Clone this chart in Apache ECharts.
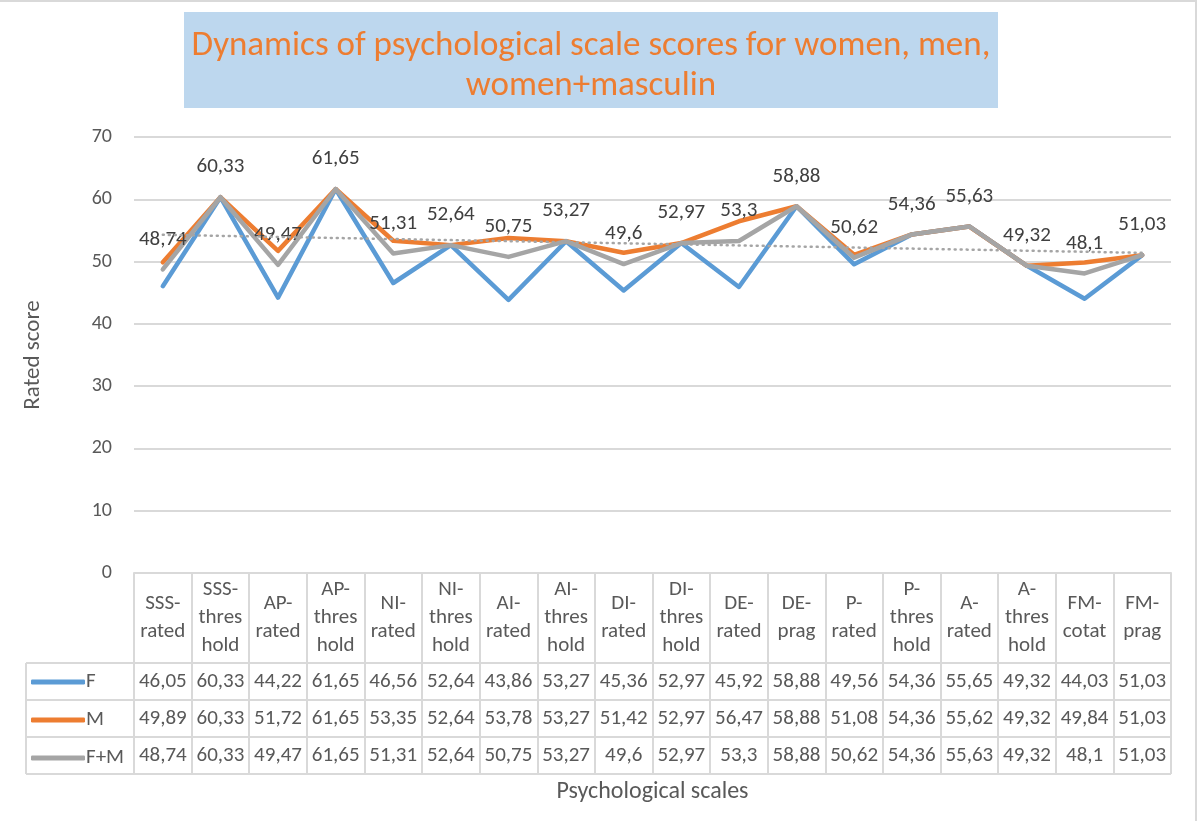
<!DOCTYPE html>
<html>
<head>
<meta charset="utf-8">
<script src="https://cdn.jsdelivr.net/npm/echarts@6/dist/echarts.min.js"></script>
<style>
html,body{margin:0;padding:0;background:#fff;}
#chart{width:1200px;height:821px;}
</style>
</head>
<body>
<div id="chart"></div>
<script>
// ---- data ----
const categories = ['SSS-\nrated','SSS-\nthres\nhold','AP-\nrated','AP-\nthres\nhold','NI-\nrated','NI-\nthres\nhold','AI-\nrated','AI-\nthres\nhold','DI-\nrated','DI-\nthres\nhold','DE-\nrated','DE-\nprag','P-\nrated','P-\nthres\nhold','A-\nrated','A-\nthres\nhold','FM-\ncotat','FM-\nprag'];
const seriesF  = [46.05,60.33,44.22,61.65,46.56,52.64,43.86,53.27,45.36,52.97,45.92,58.88,49.56,54.36,55.65,49.32,44.03,51.03];
const seriesM  = [49.89,60.33,51.72,61.65,53.35,52.64,53.78,53.27,51.42,52.97,56.47,58.88,51.08,54.36,55.62,49.32,49.84,51.03];
const seriesFM = [48.74,60.33,49.47,61.65,51.31,52.64,50.75,53.27,49.6,52.97,53.3,58.88,50.62,54.36,55.63,49.32,48.1,51.03];
const trendFM  = [54.3, 51.4]; // linear trendline endpoints
const yTicks = {min:0, max:70, interval:10};
const seriesNames = ['F','M','F+M'];

// ---- layout ----
const FONT = 'Carlito, Lato, "Open Sans", sans-serif';
const TXT = '#595959';
const GRID = '#d9d9d9';
const gL = 134, gR = 1171, gT = 137, gB = 573;
const rowH = 37, hdrH = 90;
const tableLeft = 26;
const fmt = v => String(v).replace('.', ',');

const chart = echarts.init(document.getElementById('chart'), null, {renderer:'canvas'});

function valueAxis(data, idx){
  return {
    type:'category', data:data.map(fmt), position:'bottom', gridIndex:0,
    offset: hdrH + rowH*idx,
    axisLine:{show:false}, axisTick:{show:false},
    axisLabel:{interval:0, fontFamily:FONT, fontSize:21, color:TXT, verticalAlign:'middle', margin:rowH/2}
  };
}

const hLines = [];
for (let i=0;i<=3;i++){
  const y = gB + hdrH + rowH*i;
  hLines.push({type:'line', shape:{x1:tableLeft, y1:y, x2:gR, y2:y}, style:{stroke:GRID, lineWidth:2}, silent:true});
}
hLines.push({type:'line', shape:{x1:tableLeft, y1:gB+hdrH, x2:tableLeft, y2:gB+hdrH+rowH*3}, style:{stroke:GRID, lineWidth:2}, silent:true});

const option = {
  animation:false,
  backgroundColor:'#fff',
  textStyle:{fontFamily:FONT},
  grid:{left:gL, right:1200-gR, top:gT, bottom:821-gB, containLabel:false},
  legend:{
    data:seriesNames, orient:'vertical', left:31, top:gB+hdrH+rowH/2-10, padding:0,
    itemWidth:54, itemHeight:5, itemGap:rowH-20, icon:'roundRect',
    itemStyle:{opacity:1},
    textStyle:{fontFamily:FONT, fontSize:21, lineHeight:20, color:TXT, padding:[0,0,0,-4]},
    selectedMode:false
  },
  graphic:[
    {type:'rect', shape:{x:-2, y:1, width:1198, height:830}, style:{fill:'none', stroke:GRID, lineWidth:2}, silent:true},
    {type:'rect', shape:{x:184, y:12, width:814, height:96}, style:{fill:'#BDD7EE'}, silent:true},
    {type:'text', x:591, y:66, style:{text:'Dynamics of psychological scale scores for women, men,\nwomen+masculin', fill:'#ED7D31', font:'35px '+FONT, align:'center', verticalAlign:'middle', lineHeight:40}, silent:true},
    ...hLines
  ],
  xAxis:[
    {
      type:'category', data:categories, boundaryGap:true, position:'bottom',
      axisLine:{show:true, lineStyle:{color:GRID, width:2}},
      axisTick:{show:true, interval:0, alignWithLabel:false, length:hdrH+rowH*3, lineStyle:{color:GRID, width:2}},
      axisLabel:{interval:0, fontFamily:FONT, fontSize:21, color:TXT, verticalAlign:'middle', lineHeight:28, margin:hdrH/2}
    },
    valueAxis(seriesF,0),
    valueAxis(seriesM,1),
    Object.assign(valueAxis(seriesFM,2), {
      name:'Psychological scales', nameLocation:'middle', nameGap:43,
      nameTextStyle:{fontFamily:FONT, fontSize:24, color:TXT}
    })
  ],
  yAxis:{
    type:'value', min:yTicks.min, max:yTicks.max, interval:yTicks.interval,
    axisLine:{show:false}, axisTick:{show:false},
    axisLabel:{fontFamily:FONT, fontSize:20, color:TXT, margin:22},
    splitLine:{lineStyle:{color:GRID, width:2}},
    name:'Rated score', nameLocation:'middle', nameGap:89, nameRotate:90,
    nameTextStyle:{fontFamily:FONT, fontSize:23, color:TXT}
  },
  series:[
    {name:'F', type:'line', data:seriesF, symbol:'none', color:'#5B9BD5',
     lineStyle:{width:4.5, color:'#5B9BD5', cap:'round', join:'round'}},
    {name:'M', type:'line', data:seriesM, symbol:'none', color:'#ED7D31',
     lineStyle:{width:4.5, color:'#ED7D31', cap:'round', join:'round'}},
    {name:'F+M', type:'line', data:seriesFM, symbol:'circle', symbolSize:1, showSymbol:true, color:'#A5A5A5',
     itemStyle:{color:'#A5A5A5', opacity:0},
     lineStyle:{width:4.5, color:'#A5A5A5', cap:'round', join:'round'},
     label:{show:true, position:'top', distance:19, fontFamily:FONT, fontSize:21, color:'#404040', opacity:1, formatter:p=>fmt(p.value)},
     labelLayout:{hideOverlap:false},
     markLine:{silent:true, symbol:'none', label:{show:false},
       lineStyle:{type:[1,5], cap:'round', color:'#A5A5A5', width:2.5},
       data:[[{coord:[0, trendFM[0]]},{coord:[categories.length-1, trendFM[1]]}]]}
    }
  ]
};
chart.setOption(option);
</script>
</body>
</html>
